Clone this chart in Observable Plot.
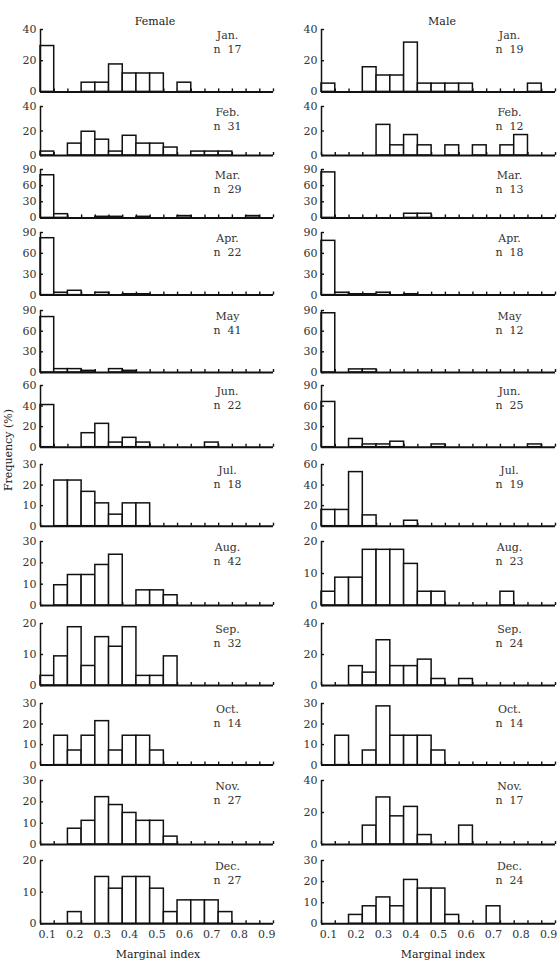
<!DOCTYPE html>
<html><head><meta charset="utf-8">
<script src="https://cdn.jsdelivr.net/npm/d3@7"></script>
<script src="https://cdn.jsdelivr.net/npm/@observablehq/plot@0.6"></script>
<style>
body{margin:0;background:#fff;}
#wrap{position:relative;width:559px;height:975px;overflow:hidden;font-family:"DejaVu Serif",serif;color:#222;}
.lbl{position:absolute;font-size:11px;white-space:nowrap;line-height:1;}
.panel{position:absolute;}
</style></head><body><div id="wrap"></div>
<script>
// ---- data ----
const binCenters = [0.10,0.15,0.20,0.25,0.30,0.35,0.40,0.45,0.50,0.55,0.60,0.65,0.70,0.75,0.80,0.85,0.90];
const xTickLabels = [0.1,0.2,0.3,0.4,0.5,0.6,0.7,0.8,0.9];
const months = ["Jan.","Feb.","Mar.","Apr.","May","Jun.","Jul.","Aug.","Sep.","Oct.","Nov.","Dec."];
const femaleN = [17,31,29,22,41,22,18,42,32,14,27,27];
const maleN   = [19,12,13,18,12,25,19,23,24,14,17,24];
const femaleYMax  = [40,40,90,90,90,60,30,30,20,30,30,20];
const femaleYStep = [20,20,30,30,30,20,10,10,10,10,10,10];
const maleYMax    = [40,40,90,90,90,90,60,20,40,30,40,30];
const maleYStep   = [20,20,30,30,30,30,20,10,20,10,20,10];

const femaleJan = [29.4,0,0,5.9,5.9,17.6,11.8,11.8,11.8,0,5.9,0,0,0,0,0,0];
const femaleFeb = [3.2,0,9.7,19.4,12.9,3.2,16.1,9.7,9.7,6.5,0,3.2,3.2,3.2,0,0,0];
const femaleMar = [79.3,6.9,0,0,2,2,0,2,0,0,3.4,0,0,0,0,3.4,0];
const femaleApr = [81.8,3.4,6.2,0,3.4,0,1.2,1.2,0,0,0,0,0,0,0,0,0];
const femaleMay = [80.5,4.9,4.9,2.4,0,4.9,2.4,0,0,0,0,0,0,0,0,0,0];
const femaleJun = [41,0,0,13.6,22.7,4.5,9.1,4.5,0,0,0,0,4.5,0,0,0,0];
const femaleJul = [0,22.2,22.2,16.7,11.1,5.6,11.1,11.1,0,0,0,0,0,0,0,0,0];
const femaleAug = [0,9.5,14.3,14.3,19.0,23.8,0,7.1,7.1,4.8,0,0,0,0,0,0,0];
const femaleSep = [3.1,9.4,18.8,6.3,15.6,12.5,18.8,3.1,3.1,9.4,0,0,0,0,0,0,0];
const femaleOct = [0,14.3,7.1,14.3,21.4,7.1,14.3,14.3,7.1,0,0,0,0,0,0,0,0];
const femaleNov = [0,0,7.4,11.1,22.2,18.5,14.8,11.1,11.1,3.7,0,0,0,0,0,0,0];
const femaleDec = [0,0,3.7,0,14.8,11.1,14.8,14.8,11.1,3.7,7.4,7.4,7.4,3.7,0,0,0];

const maleJan = [5.3,0,0,15.8,10.5,10.5,31.6,5.3,5.3,5.3,5.3,0,0,0,0,5.3,0];
const maleFeb = [0,0,0,0,25,8.3,16.7,8.3,0,8.3,0,8.3,0,8.3,16.7,0,0];
const maleMar = [84.6,0,0,0,0,0,7.7,7.7,0,0,0,0,0,0,0,0,0];
const maleApr = [78,3.4,1.2,1.2,3.4,0,1.2,0,0,0,0,0,0,0,0,0,0];
const maleMay = [86,0,4.5,4.5,0,0,0,0,0,0,0,0,0,0,0,0,0];
const maleJun = [66,0,12,4,4,8,0,0,4,0,0,0,0,0,0,4,0];
const maleJul = [15.8,15.8,52.6,10.5,0,0,5.3,0,0,0,0,0,0,0,0,0,0];
const maleAug = [4.3,8.7,8.7,17.4,17.4,17.4,13.0,4.3,4.3,0,0,0,0,4.3,0,0,0];
const maleSep = [0,0,12.5,8.3,29.2,12.5,12.5,16.7,4.2,0,4.2,0,0,0,0,0,0];
const maleOct = [0,14.3,0,7.1,28.6,14.3,14.3,14.3,7.1,0,0,0,0,0,0,0,0];
const maleNov = [0,0,0,11.8,29.4,17.6,23.5,5.9,0,0,11.8,0,0,0,0,0,0];
const maleDec = [0,0,4.2,8.3,12.5,8.3,20.8,16.7,16.7,4.2,0,0,8.3,0,0,0,0];

const femaleSeries = [femaleJan,femaleFeb,femaleMar,femaleApr,femaleMay,femaleJun,femaleJul,femaleAug,femaleSep,femaleOct,femaleNov,femaleDec];
const maleSeries = [maleJan,maleFeb,maleMar,maleApr,maleMay,maleJun,maleJul,maleAug,maleSep,maleOct,maleNov,maleDec];

// ---- layout ----
const rowTop = [29.3,106,169.3,231.7,310,385,464,541,623.3,702.7,780,860];
const rowBot = [91.7,155,217.7,294.3,372,446.7,525.7,605,685.3,764.3,844,923.3];
const binW = 0.05;
const xDomain = [binCenters[0]-binW/2, binCenters[binCenters.length-1]+binW/2];
const binEdges = binCenters.map(c => c - binW/2).concat([xDomain[1]]);

const wrap = document.getElementById("wrap");

function panel(values, yMax, yStep, month, n, isBottom, cfg, top, bot) {
  const innerH = bot - top;
  const mt = 6, mb = isBottom ? 24 : 4;
  const innerW = cfg.width - cfg.ml - cfg.mr;
  const rows = binCenters.map((c, i) => ({x1: c - binW/2, x2: c + binW/2, v: values[i]})).filter(d => d.v > 0);
  const yTicks = d3.range(0, yMax + 0.001, yStep);
  const svg = Plot.plot({
    width: cfg.width,
    height: innerH + mt + mb,
    marginLeft: cfg.ml, marginRight: cfg.mr, marginTop: mt, marginBottom: mb,
    x: {domain: xDomain, axis: null},
    y: {domain: [0, yMax], axis: null},
    style: {fontFamily: "DejaVu Serif", fontSize: "11px", color: "#222", background: "transparent", overflow: "visible"},
    marks: [
      Plot.tickX(binEdges, {x: d => d, insetTop: innerH - 3, stroke: "#111", strokeWidth: 1.4}),
      Plot.rectY(rows, {x1: "x1", x2: "x2", y: "v", fill: "white", stroke: "#111", strokeWidth: 1.5}),
      Plot.ruleY([0], {stroke: "#111", strokeWidth: 2}),
      Plot.ruleX([xDomain[0]], {stroke: "#111", strokeWidth: 1.5}),
      Plot.tickY(yTicks, {y: d => d, insetRight: innerW - 3, stroke: "#111", strokeWidth: 1.4}),
      Plot.axisY({ticks: yTicks, tickSize: 0, tickPadding: 4, label: null, fill: "#333"}),
      Plot.text([month], {text: d => d, frameAnchor: "top-right", textAnchor: "middle", dx: -46, dy: 2, fontSize: 11, fill: "#333"}),
      Plot.text([`n  ${n}`], {text: d => d, frameAnchor: "top-right", textAnchor: "middle", dx: -46, dy: 15.5, fontSize: 11, fill: "#333"}),
      isBottom ? Plot.axisX({ticks: xTickLabels, tickSize: 0, tickPadding: 6, tickFormat: d3.format(".1f"), label: null, fill: "#333"}) : null
    ]
  });
  const div = document.createElement("div");
  div.className = "panel";
  div.style.left = cfg.left + "px";
  div.style.top = (top - mt) + "px";
  div.appendChild(svg);
  wrap.appendChild(div);
}

const femaleCfg = {left: 0, width: 280, ml: 40, mr: 7};
const maleCfg = {left: 280, width: 279, ml: 41, mr: 4};

months.forEach((m, i) => {
  const isBottom = i === months.length - 1;
  panel(femaleSeries[i], femaleYMax[i], femaleYStep[i], m, femaleN[i], isBottom, femaleCfg, rowTop[i], rowBot[i]);
  panel(maleSeries[i], maleYMax[i], maleYStep[i], m, maleN[i], isBottom, maleCfg, rowTop[i], rowBot[i]);
});

function label(text, x, y, rotate) {
  const d = document.createElement("div");
  d.className = "lbl";
  d.textContent = text;
  d.style.left = x + "px";
  d.style.top = y + "px";
  d.style.transform = "translate(-50%,-50%)" + (rotate ? " rotate(-90deg)" : "");
  wrap.appendChild(d);
}
label("Female", 155, 21);
label("Male", 442, 21);
label("Marginal index", 158, 954);
label("Marginal index", 443, 954);
label("Frequency (%)", 8, 450, true);
</script></body></html>
